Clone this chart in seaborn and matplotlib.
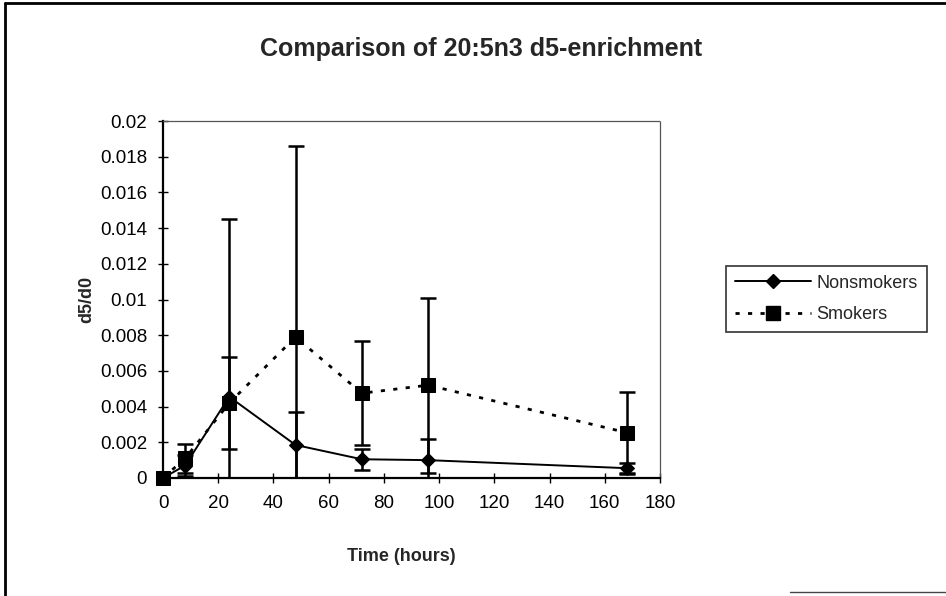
import matplotlib
matplotlib.use("Agg")
import matplotlib.pyplot as plt
import seaborn as sns
import numpy as np
import pandas as pd
from matplotlib.lines import Line2D

# ---- data ----
time_hours = [0, 8, 24, 48, 72, 96, 168]
nonsmokers = [0.0, 0.0007, 0.00455, 0.00185, 0.00105, 0.0010, 0.00055]
nonsmokers_err = [0.0, 0.0006, 0.00995, 0.00185, 0.00058, 0.0012, 0.0003]
smokers = [0.0, 0.0011, 0.0042, 0.0079, 0.00475, 0.0052, 0.00254]
smokers_err = [0.0, 0.0008, 0.0026, 0.0107, 0.0029, 0.0049, 0.00226]
x_ticks = [0, 20, 40, 60, 80, 100, 120, 140, 160, 180]
y_ticks = [0, 0.002, 0.004, 0.006, 0.008, 0.01, 0.012, 0.014, 0.016, 0.018, 0.02]
y_tick_labels = ["0", "0.002", "0.004", "0.006", "0.008", "0.01", "0.012",
                 "0.014", "0.016", "0.018", "0.02"]
title = "Comparison of 20:5n3 d5-enrichment"
x_label = "Time (hours)"
y_label = "d5/d0"
series_names = ["Nonsmokers", "Smokers"]

df = pd.DataFrame({
    "time": time_hours * 2,
    "value": nonsmokers + smokers,
    "err": nonsmokers_err + smokers_err,
    "group": [series_names[0]] * len(time_hours) + [series_names[1]] * len(time_hours),
})

sns.set_theme(style="white")
plt.rcParams["font.family"] = ["Liberation Sans", "DejaVu Sans"]

fig = plt.figure(figsize=(9.46, 5.96), dpi=100)
ax = fig.add_axes([163 / 946, 1 - 478 / 596, 497 / 946, 357 / 596])

styles = {
    series_names[0]: dict(marker="D", markersize=7.2, linestyle="-", linewidth=1.4),
    series_names[1]: dict(marker="s", markersize=9.5, linestyle=(0, (1.5, 3)), linewidth=2.0),
}

for name in series_names:
    sub = df[df["group"] == name]
    ax.errorbar(sub["time"], sub["value"], yerr=sub["err"], fmt="none",
                ecolor="black", elinewidth=1.8, capsize=5.5, capthick=1.8, zorder=2)

for name in series_names:
    sub = df[df["group"] == name]
    st = styles[name]
    sns.lineplot(x=sub["time"], y=sub["value"], ax=ax, color="black",
                 marker=st["marker"], markersize=st["markersize"],
                 linestyle=st["linestyle"], linewidth=st["linewidth"],
                 markeredgecolor="black", markerfacecolor="black",
                 clip_on=False, zorder=3, label=name, legend=False)

ax.set_xlim(0, 180)
ax.set_ylim(0, 0.02)
ax.set_xticks(x_ticks)
ax.set_xticklabels([str(v) for v in x_ticks])
ax.set_yticks(y_ticks)
ax.set_yticklabels(y_tick_labels)
ax.tick_params(axis="both", direction="inout", length=7, width=1.0, colors="black",
               labelsize=13.5, bottom=True, left=True)
ax.tick_params(axis="y", pad=8)
ax.tick_params(axis="x", pad=9)

for side in ["left", "bottom"]:
    ax.spines[side].set_color("black")
    ax.spines[side].set_linewidth(1.6)
for side in ["top", "right"]:
    ax.spines[side].set_color("#555555")
    ax.spines[side].set_linewidth(0.9)
    ax.spines[side].set_linestyle((0, (1, 1)))

ax.set_xlabel(x_label, fontsize=13, fontweight="bold")
ax.set_ylabel(y_label, fontsize=13, fontweight="bold")
ax.xaxis.set_label_coords(0.48, -0.196)
ax.yaxis.set_label_coords(-0.137, 0.5)
ax.grid(False)

fig.text(0.509, 1 - 49 / 596, title, ha="center", va="center",
         fontsize=18, fontweight="bold")

handles = [
    Line2D([], [], color="black", marker="D", markersize=7.2, linewidth=1.4),
    Line2D([], [], color="black", marker="s", markersize=9.5, linewidth=2.0,
           linestyle=(0, (1.5, 3))),
]
leg = fig.legend(handles, series_names, loc="center",
                 bbox_to_anchor=(826.5 / 946, 1 - 299 / 596),
                 bbox_transform=fig.transFigure, fontsize=13, frameon=True,
                 fancybox=False, edgecolor="black", handlelength=4.2,
                 handletextpad=0.3, borderpad=0.5, labelspacing=0.8,
                 borderaxespad=0)
leg.get_frame().set_linewidth(1.2)

# outer chart border (scanned frame)
fig.add_artist(Line2D([0.005, 1.0], [1 - 3 / 596, 1 - 3 / 596], color="black",
                      linewidth=2.0, transform=fig.transFigure))
fig.add_artist(Line2D([5 / 946, 5 / 946], [0.0, 1 - 3 / 596], color="black",
                      linewidth=2.0, transform=fig.transFigure))
fig.add_artist(Line2D([790 / 946, 1.0], [1 - 592 / 596, 1 - 592 / 596], color="#444444",
                      linewidth=1.0, transform=fig.transFigure))

fig.savefig("out.png", dpi=100, facecolor="white")
